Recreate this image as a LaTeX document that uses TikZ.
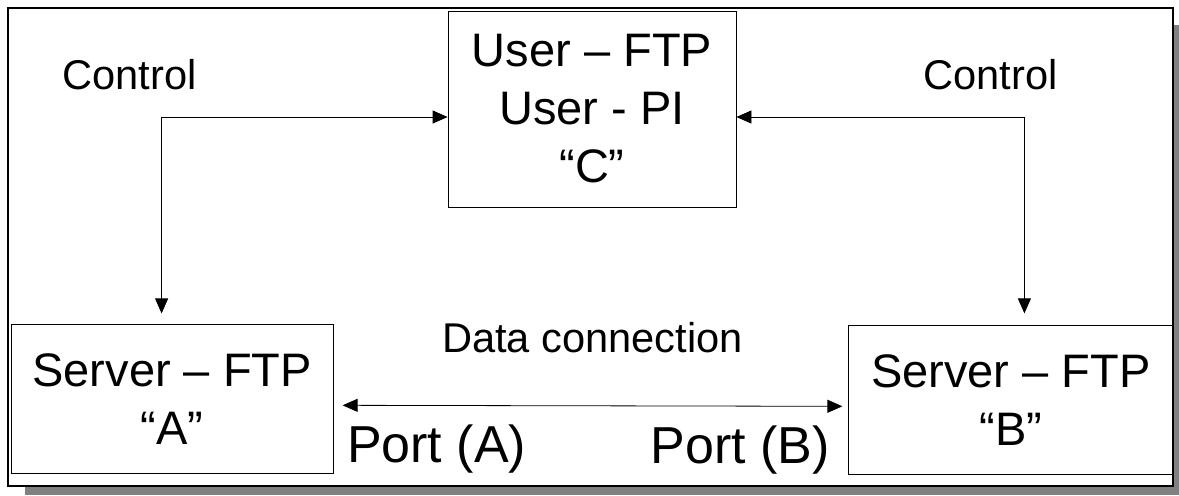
\documentclass[tikz,border=0pt]{standalone}
\usepackage{fontspec}
\setmainfont{Liberation Sans}
\usetikzlibrary{positioning}
\usetikzlibrary{arrows.meta}
\tikzset{>={Triangle[length=7.5pt,width=6.5pt]}, line width=0.85pt}
\tikzstyle{block} = [draw, rectangle, align=center, inner sep=0pt, font=\fontsize{23.5}{29}\selectfont]
\tikzstyle{caption} = [inner sep=0pt, font=\fontsize{20.8}{24}\selectfont]
\tikzstyle{port} = [inner sep=0pt, font=\fontsize{26}{30}\selectfont]
\tikzstyle{frame} = [draw, fill=white, line width=1.4pt]
\tikzstyle{shadow} = [fill=gray]

\begin{document}
\begin{tikzpicture}[x=0.5pt, y=-0.5pt]
        % frame and its shadow
        \fill [shadow] (25,25) rectangle (1179,495);
        \draw [frame] (8,8) rectangle (1173,486);
        \useasboundingbox (0,0) rectangle (1179,495);

        \node [block, minimum width=144pt, minimum height=98pt] (userpi) at (592,109) {User -- FTP\\User - PI\\“C”};
        \node [block, minimum width=161pt, minimum height=74.5pt, below left=58.5pt and 57pt of userpi] (servera) {Server -- FTP\\“A”};
        \node [block, minimum width=162pt, minimum height=74.5pt, below right=59pt and 56pt of userpi] (serverb) {Server -- FTP\\“B”};

        \coordinate (ctrl_a) at ([xshift=-143pt, yshift=-4pt]userpi.west);
        \coordinate (ctrl_b) at ([xshift=144pt, yshift=-4pt]userpi.east);
        \node [caption] (ctrl_a_txt) at ([xshift=-16pt, yshift=21pt]ctrl_a) {Control};
        \node [caption] (ctrl_b_txt) at ([xshift=-17pt, yshift=21pt]ctrl_b) {Control};

        \draw [<->, shorten >=5.5pt] ([yshift=-4pt]userpi.west) -| (ctrl_a |- servera.north);
        \draw [<->, shorten >=6pt] ([yshift=-4pt]userpi.east) -| (ctrl_b |- serverb.north);

        \draw [<->] ([xshift=4.5pt, yshift=-3pt]servera.east) -- node [caption, midway, yshift=34pt] (data_txt) {Data connection}
            node [port, pos=0, anchor=base west, xshift=2pt, yshift=-28.5pt] (port_a) {Port (A)}
            node [port, pos=1, anchor=base east, xshift=-6pt, yshift=-28.5pt] (port_b) {Port (B)}
            ([xshift=-3pt, yshift=-3pt]serverb.west);
\end{tikzpicture}
\end{document}
